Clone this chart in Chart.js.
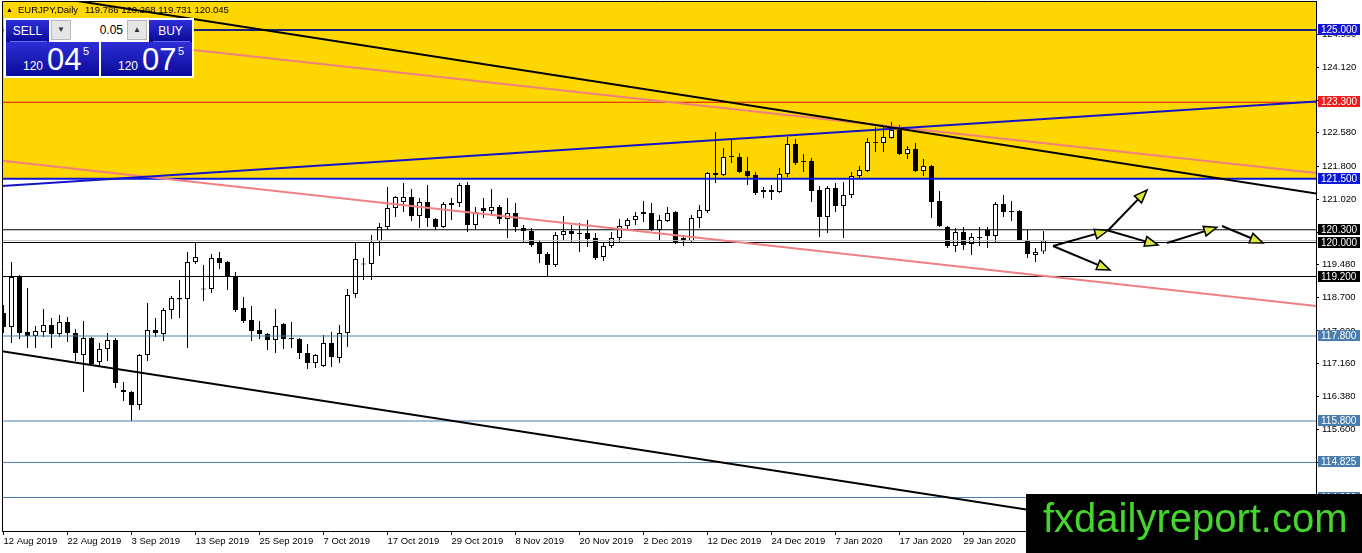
<!DOCTYPE html>
<html>
<head>
<meta charset="utf-8">
<title>EURJPY Daily</title>
<script src="https://cdn.jsdelivr.net/npm/chart.js@4.4.1/dist/chart.umd.min.js"></script>
<style>
  html, body { margin: 0; padding: 0; background: #fff; overflow: hidden; }
  #wrap { position: relative; width: 1362px; height: 553px; }
  canvas { display: block; }
  .abs { position: absolute; font-family: "Liberation Sans", Arial, sans-serif; line-height: 1; }
  .blue { background: linear-gradient(#2e2ed8, #0a0a98); color: #fff; }
  .btn { text-align: center; font-size: 12px; line-height: 22px; }
  .ctl { background: #e6e6e6; border: 1px solid #b8b8b8; box-sizing: border-box; font-size: 8px; text-align: center; line-height: 18px; color: #333; }
  .num { color: #fff; }
</style>
</head>
<body>
<div id="wrap">
  <canvas id="chart" width="1362" height="553"></canvas>

  <!-- one click trading panel -->
  <div class="abs" style="left:4px;top:18px;width:190px;height:60px;background:#fff;"></div>
  <div class="abs blue btn" style="left:6px;top:20px;width:43px;height:22px;">SELL</div>
  <div class="abs blue btn" style="left:149px;top:20px;width:43px;height:22px;">BUY</div>
  <div class="abs ctl" style="left:51px;top:20px;width:20px;height:20px;">&#9660;</div>
  <div class="abs" style="left:71px;top:20px;width:56px;height:20px;background:#fff;font-size:12px;line-height:20px;text-align:right;box-sizing:border-box;padding-right:4px;color:#000;">0.05</div>
  <div class="abs ctl" style="left:127px;top:20px;width:20px;height:20px;">&#9650;</div>
  <div class="abs blue" style="left:6px;top:42px;width:93px;height:34px;"></div>
  <div class="abs blue" style="left:101px;top:42px;width:91px;height:34px;"></div>
  <div class="abs" style="left:10px;top:41px;width:37px;height:1px;background:#6a6aee;"></div>
  <div class="abs" style="left:153px;top:41px;width:37px;height:1px;background:#6a6aee;"></div>
  <span class="abs num" style="left:23px;top:60px;font-size:12px;">120</span>
  <span class="abs num" style="left:47px;top:44px;font-size:31px;">04</span>
  <span class="abs num" style="left:83px;top:46px;font-size:11px;">5</span>
  <span class="abs num" style="left:118px;top:60px;font-size:12px;">120</span>
  <span class="abs num" style="left:142px;top:44px;font-size:31px;">07</span>
  <span class="abs num" style="left:178px;top:46px;font-size:11px;">5</span>
</div>

<script>
// EURJPY daily bars, 12 Aug 2019 .. early Feb 2020
const opens = [
  118.341, 118.012, 119.188, 117.894, 117.800, 117.894, 118.059, 117.847, 118.129, 117.871,
  117.353, 117.753, 117.188, 117.494, 117.706, 116.529, 116.482, 116.176, 117.353, 117.941,
  117.847, 118.412, 118.694, 118.671, 119.541, 118.918, 118.906, 119.635, 119.541, 119.212,
  118.459, 118.176, 117.941, 117.847, 117.706, 118.082, 117.753, 117.729, 117.400, 117.165,
  117.094, 117.635, 117.282, 117.871, 118.788, 119.482, 119.494, 120.035, 120.365, 120.812,
  120.953, 121.071, 120.624, 120.953, 120.553, 120.365, 120.929, 120.929, 121.353, 120.412,
  120.812, 120.741, 120.835, 120.553, 120.694, 120.341, 120.271, 119.988, 119.729, 119.471,
  120.176, 120.271, 120.224, 120.224, 120.106, 119.659, 119.918, 120.106, 120.388, 120.529,
  120.718, 120.694, 120.294, 120.506, 120.718, 120.106, 120.035, 120.576, 120.741, 121.635,
  121.588, 122.035, 122.012, 121.682, 121.588, 121.235, 121.235, 121.188, 121.612, 122.318,
  121.918, 121.918, 121.235, 120.600, 121.282, 120.859, 121.118, 121.565, 121.682, 122.365,
  122.341, 122.459, 122.647, 122.082, 122.200, 121.682, 121.800, 120.976, 120.365, 119.918,
  120.247, 119.965, 120.129, 120.294, 120.153, 120.906, 120.741, 120.741, 120.059, 119.706,
  119.786
];
const highs = [
  118.529, 119.541, 119.235, 118.929, 118.035, 118.435, 118.224, 118.294, 118.247, 117.965,
  118.153, 117.776, 117.635, 117.871, 117.753, 116.718, 116.506, 117.376, 118.576, 118.224,
  118.459, 118.741, 119.118, 119.777, 119.988, 119.471, 119.729, 119.777, 119.565, 119.306,
  118.718, 118.506, 118.153, 117.870, 118.435, 118.106, 118.129, 117.753, 117.612, 117.376,
  117.824, 117.894, 118.059, 118.906, 119.988, 119.635, 120.176, 120.459, 121.306, 121.094,
  121.400, 121.259, 121.047, 121.353, 120.576, 120.953, 121.047, 121.400, 121.424, 120.835,
  121.047, 121.259, 120.882, 121.047, 120.929, 120.412, 120.341, 120.059, 119.777, 120.247,
  120.624, 120.412, 120.459, 120.529, 120.224, 120.012, 120.247, 120.553, 120.576, 120.718,
  120.976, 120.929, 120.647, 120.835, 120.741, 120.176, 120.647, 120.882, 121.659, 122.600,
  122.224, 122.412, 122.106, 122.012, 121.659, 121.306, 121.353, 121.753, 122.482, 122.435,
  122.082, 121.988, 121.329, 121.329, 121.400, 121.424, 121.659, 121.800, 122.459, 122.718,
  122.718, 122.835, 122.765, 122.271, 122.341, 121.965, 121.824, 121.212, 120.388, 120.341,
  120.365, 120.224, 120.365, 120.365, 120.953, 121.118, 120.976, 120.765, 120.294, 119.871,
  120.268
];
const lows = [
  117.871, 117.635, 117.729, 117.518, 117.518, 117.776, 117.518, 117.776, 117.659, 117.212,
  116.482, 117.094, 117.071, 117.212, 116.576, 116.271, 115.800, 116.059, 117.212, 117.776,
  117.682, 118.200, 118.224, 117.518, 119.494, 118.624, 118.812, 119.377, 118.882, 118.365,
  118.106, 117.682, 117.729, 117.471, 117.400, 117.494, 117.518, 117.259, 117.024, 117.047,
  117.071, 117.071, 117.165, 117.541, 118.694, 119.118, 119.118, 119.682, 120.294, 120.600,
  120.718, 120.506, 120.341, 120.365, 120.294, 120.341, 120.529, 120.835, 120.247, 120.294,
  120.576, 120.647, 120.435, 120.106, 120.247, 120.012, 119.894, 119.518, 119.188, 119.424,
  120.035, 120.012, 119.777, 119.894, 119.588, 119.565, 119.871, 120.012, 120.271, 120.412,
  120.482, 120.271, 120.059, 120.482, 119.965, 119.918, 120.012, 120.341, 120.694, 121.400,
  121.565, 121.871, 121.635, 121.353, 121.118, 121.047, 121.000, 121.165, 121.541, 121.824,
  121.659, 120.953, 120.129, 120.224, 120.718, 120.106, 121.047, 121.518, 121.659, 122.129,
  122.129, 122.440, 122.059, 121.965, 121.659, 121.565, 120.576, 120.365, 119.871, 119.777,
  119.824, 119.706, 119.918, 119.871, 120.012, 120.600, 120.506, 120.035, 119.635, 119.541,
  119.731
];
const closes = [
  118.012, 119.188, 117.871, 117.800, 117.918, 118.059, 117.847, 118.129, 117.871, 117.400,
  117.753, 117.141, 117.494, 117.706, 116.694, 116.482, 116.176, 117.353, 117.941, 117.871,
  118.412, 118.694, 118.659, 119.541, 119.659, 118.894, 119.635, 119.518, 119.188, 118.412,
  118.153, 117.918, 117.847, 117.706, 118.035, 117.729, 117.729, 117.400, 117.165, 117.353,
  117.635, 117.306, 117.871, 118.765, 119.612, 119.494, 120.012, 120.365, 120.812, 121.071,
  121.071, 120.624, 120.953, 120.576, 120.365, 120.906, 120.882, 121.353, 120.412, 120.718,
  120.741, 120.835, 120.553, 120.694, 120.365, 120.271, 119.941, 119.729, 119.471, 120.176,
  120.271, 120.200, 120.200, 120.082, 119.635, 119.918, 120.106, 120.388, 120.529, 120.624,
  120.671, 120.294, 120.529, 120.694, 119.988, 120.035, 120.576, 120.765, 121.635, 121.588,
  122.012, 122.012, 121.659, 121.565, 121.165, 121.188, 121.188, 121.612, 122.318, 121.871,
  121.894, 121.212, 120.600, 121.282, 120.859, 121.118, 121.565, 121.706, 122.365, 122.341,
  122.482, 122.647, 122.082, 122.200, 121.682, 121.800, 120.953, 120.388, 119.918, 120.247,
  119.941, 120.129, 120.106, 120.153, 120.906, 120.718, 120.718, 120.059, 119.729, 119.777,
  120.045
];

// one date label every 8 bars
const dateLabels = [
  '12 Aug 2019', '22 Aug 2019', '3 Sep 2019', '13 Sep 2019', '25 Sep 2019', '7 Oct 2019',
  '17 Oct 2019', '29 Oct 2019', '8 Nov 2019', '20 Nov 2019', '2 Dec 2019', '12 Dec 2019',
  '24 Dec 2019', '7 Jan 2020', '17 Jan 2020', '29 Jan 2020'
];
const priceTicks = [124.900, 124.120, 123.340, 122.580, 121.800, 121.020, 120.240,
  119.480, 118.700, 117.920, 117.160, 116.380, 115.600, 114.820];

// horizontal levels drawn on the chart
const levelPrices = [125.000, 123.300, 121.500, 120.300, 120.000, 119.200, 117.800, 115.800, 114.825, 114.000];
const bidPrice = 120.045;
const zoneTop = 126.5;
const zoneBottom = 121.500;

// trend lines: [bar index, price] -> [bar index, price]
const blackUpper = [[-1, 125.982], [165, 121.124]];
const blackLower = [[-1, 117.464], [165, 112.637]];
const pinkUpper = [[-1, 125.038], [165, 121.617]];
const pinkLower = [[-1, 121.943], [165, 118.487]];
const blueRise = [[-1, 121.322], [165, 123.327]];

// forecast arrows: [index0, price0, index1, price1]
const arrows = [
  [131.19, 119.918, 138.06, 120.282],
  [138.06, 120.282, 142.94, 121.235],
  [138.06, 120.282, 144.31, 119.941],
  [131.19, 119.918, 138.31, 119.353],
  [145.44, 119.988, 151.69, 120.358],
  [152.31, 120.388, 157.44, 119.988]
];

const levelStyle = [
  { line: '#1d1d7a', box: '#1515d5', width: 2 },
  { line: '#e01010', box: '#ee1c1c', width: 1 },
  { line: '#0c18d8', box: '#0c18d8', width: 2 },
  { line: '#000000', box: '#000000', width: 1 },
  { line: '#000000', box: '#000000', width: 1 },
  { line: '#000000', box: '#000000', width: 1 },
  { line: '#4a7eae', box: '#4a7eae', width: 1 },
  { line: '#4a7eae', box: '#4a7eae', width: 1 },
  { line: '#4a7eae', box: '#4a7eae', width: 1 },
  { line: '#4a7eae', box: '#4a7eae', width: 1 }
];

const X_MIN = -0.1875, X_MAX = 164.0625;
const Y_MIN = 113.2118, Y_MAX = 125.6824;
const FONT = '"Liberation Sans", Arial, sans-serif';

const toPts = seg => seg.map(([x, y]) => ({ x, y }));
const lineSet = (pts, color, width, order) => ({
  type: 'line', data: pts, borderColor: color, borderWidth: width,
  pointRadius: 0, fill: false, tension: 0, order: order
});

const datasets = [];

// yellow zone (background rectangle)
datasets.push({
  type: 'line',
  data: [{ x: X_MIN - 2, y: zoneTop }, { x: X_MAX + 2, y: zoneTop }],
  borderWidth: 0, pointRadius: 0,
  backgroundColor: '#ffd700',
  fill: { value: zoneBottom },
  order: 30
});

// wicks
datasets.push({
  type: 'bar',
  data: lows.map((l, i) => ({ x: i, y: [l, highs[i]] })),
  backgroundColor: '#000', borderWidth: 0, barThickness: 1,
  inflateAmount: 0, grouped: false, order: 20
});

// bodies
datasets.push({
  type: 'bar',
  data: opens.map((o, i) => ({ x: i, y: [o, closes[i]] })),
  backgroundColor: opens.map((o, i) => closes[i] >= o ? '#ffffff' : '#000000'),
  borderColor: '#000', borderWidth: 1, borderSkipped: false,
  barThickness: 5, minBarLength: 1, inflateAmount: 0, grouped: false, order: 19
});

// horizontal levels
levelPrices.forEach((p, k) => {
  datasets.push(lineSet([{ x: X_MIN - 1, y: p }, { x: X_MAX + 1, y: p }],
    levelStyle[k].line, levelStyle[k].width, 5));
});
datasets.push(lineSet([{ x: X_MIN - 1, y: bidPrice }, { x: X_MAX + 1, y: bidPrice }], '#c4c4c4', 1, 6));

// trend lines
datasets.push(lineSet(toPts(pinkUpper), '#f08080', 2, 3));
datasets.push(lineSet(toPts(pinkLower), '#f08080', 2, 3));
datasets.push(lineSet(toPts(blueRise), '#1414c8', 2, 2));
datasets.push(lineSet(toPts(blackUpper), '#000000', 2, 1));
datasets.push(lineSet(toPts(blackLower), '#000000', 2, 1));

const last = opens.length - 1;
const headerText = [opens[last], highs[last], lows[last], closes[last]].map(v => v.toFixed(3)).join(' ');

const mtOverlay = {
  id: 'mtOverlay',
  afterDatasetDraw(chart, args) {
    if (args.index !== 0) return;
    const ctx = chart.ctx;
    ctx.save();
    ctx.fillStyle = '#000';
    ctx.textBaseline = 'middle';
    ctx.font = '7px ' + FONT;
    ctx.fillText('▲', 6, 10);
    ctx.font = '9.5px ' + FONT;
    ctx.fillText('EURJPY,Daily', 18, 10);
    ctx.fillText(headerText, 85, 10);
    ctx.restore();
  },
  afterDatasetsDraw(chart) {
    const ctx = chart.ctx, xs = chart.scales.x, ys = chart.scales.y;
    ctx.save();
    arrows.forEach(([i0, p0, i1, p1]) => {
      const x0 = xs.getPixelForValue(i0), y0 = ys.getPixelForValue(p0);
      const x1 = xs.getPixelForValue(i1), y1 = ys.getPixelForValue(p1);
      const a = Math.atan2(y1 - y0, x1 - x0);
      const len = 13, half = 5;
      ctx.strokeStyle = '#000';
      ctx.lineWidth = 2;
      ctx.beginPath();
      ctx.moveTo(x0, y0);
      ctx.lineTo(x1 - Math.cos(a) * 6, y1 - Math.sin(a) * 6);
      ctx.stroke();
      const bx = x1 - Math.cos(a) * len, by = y1 - Math.sin(a) * len;
      ctx.beginPath();
      ctx.moveTo(x1, y1);
      ctx.lineTo(bx - Math.sin(a) * half, by + Math.cos(a) * half);
      ctx.lineTo(bx + Math.sin(a) * half, by - Math.cos(a) * half);
      ctx.closePath();
      ctx.fillStyle = '#dce83a';
      ctx.fill();
      ctx.lineWidth = 1.5;
      ctx.stroke();
    });
    ctx.restore();
  },
  afterDraw(chart) {
    const ctx = chart.ctx, area = chart.chartArea, ys = chart.scales.y;
    ctx.save();
    // frame top and left
    ctx.strokeStyle = '#000';
    ctx.lineWidth = 1;
    ctx.beginPath();
    ctx.moveTo(area.left + 0.5, area.bottom);
    ctx.lineTo(area.left + 0.5, area.top + 0.5);
    ctx.lineTo(area.right, area.top + 0.5);
    ctx.stroke();

    // price boxes on the axis
    ctx.font = '10px ' + FONT;
    ctx.textBaseline = 'middle';
    levelPrices.forEach((p, k) => {
      const y = Math.round(ys.getPixelForValue(p));
      ctx.fillStyle = levelStyle[k].box;
      ctx.fillRect(area.right + 2, y - 6, 42, 11);
      ctx.fillStyle = '#fff';
      ctx.fillText(p.toFixed(3), area.right + 5, y);
    });

    // watermark
    ctx.fillStyle = '#000';
    ctx.fillRect(1026, 494, 336, 59);
    ctx.fillStyle = '#44d62c';
    ctx.font = '40px ' + FONT;
    ctx.textBaseline = 'alphabetic';
    ctx.fillText('fxdailyreport.com', 1043, 532);
    ctx.restore();
  }
};

// keep the plot area fixed: no extra room for overhanging tick labels
const noOverhang = s => {
  s.paddingTop = 0; s.paddingBottom = 0; s.paddingLeft = 0; s.paddingRight = 0;
};

new Chart(document.getElementById('chart'), {
  type: 'bar',
  data: { datasets },
  plugins: [mtOverlay],
  options: {
    responsive: false,
    animation: false,
    devicePixelRatio: 1,
    layout: { padding: { top: 1, left: 2, right: 0, bottom: 0 } },
    plugins: { legend: { display: false }, tooltip: { enabled: false } },
    scales: {
      x: {
        type: 'linear',
        min: X_MIN,
        max: X_MAX,
        offset: false,
        afterBuildTicks: s => { s.ticks = dateLabels.map((_, k) => ({ value: k * 8 })); },
        afterFit: s => { s.height = 22; noOverhang(s); },
        ticks: {
          callback: v => dateLabels[Math.round(v / 8)],
          align: 'start',
          autoSkip: false,
          maxRotation: 0,
          padding: 1,
          color: '#000',
          font: { family: FONT, size: 9.5 }
        },
        grid: { drawOnChartArea: false, offset: false, tickLength: 4, color: '#000' },
        border: { color: '#000' }
      },
      y: {
        type: 'linear',
        position: 'right',
        min: Y_MIN,
        max: Y_MAX,
        afterBuildTicks: s => { s.ticks = priceTicks.map(v => ({ value: v })); },
        afterFit: s => { s.width = 46; noOverhang(s); },
        ticks: {
          callback: v => v.toFixed(3),
          padding: 3,
          color: '#000',
          font: { family: FONT, size: 9.5 }
        },
        grid: { drawOnChartArea: false, tickLength: 3, color: '#000' },
        border: { color: '#000' }
      }
    }
  }
});
</script>
</body>
</html>
